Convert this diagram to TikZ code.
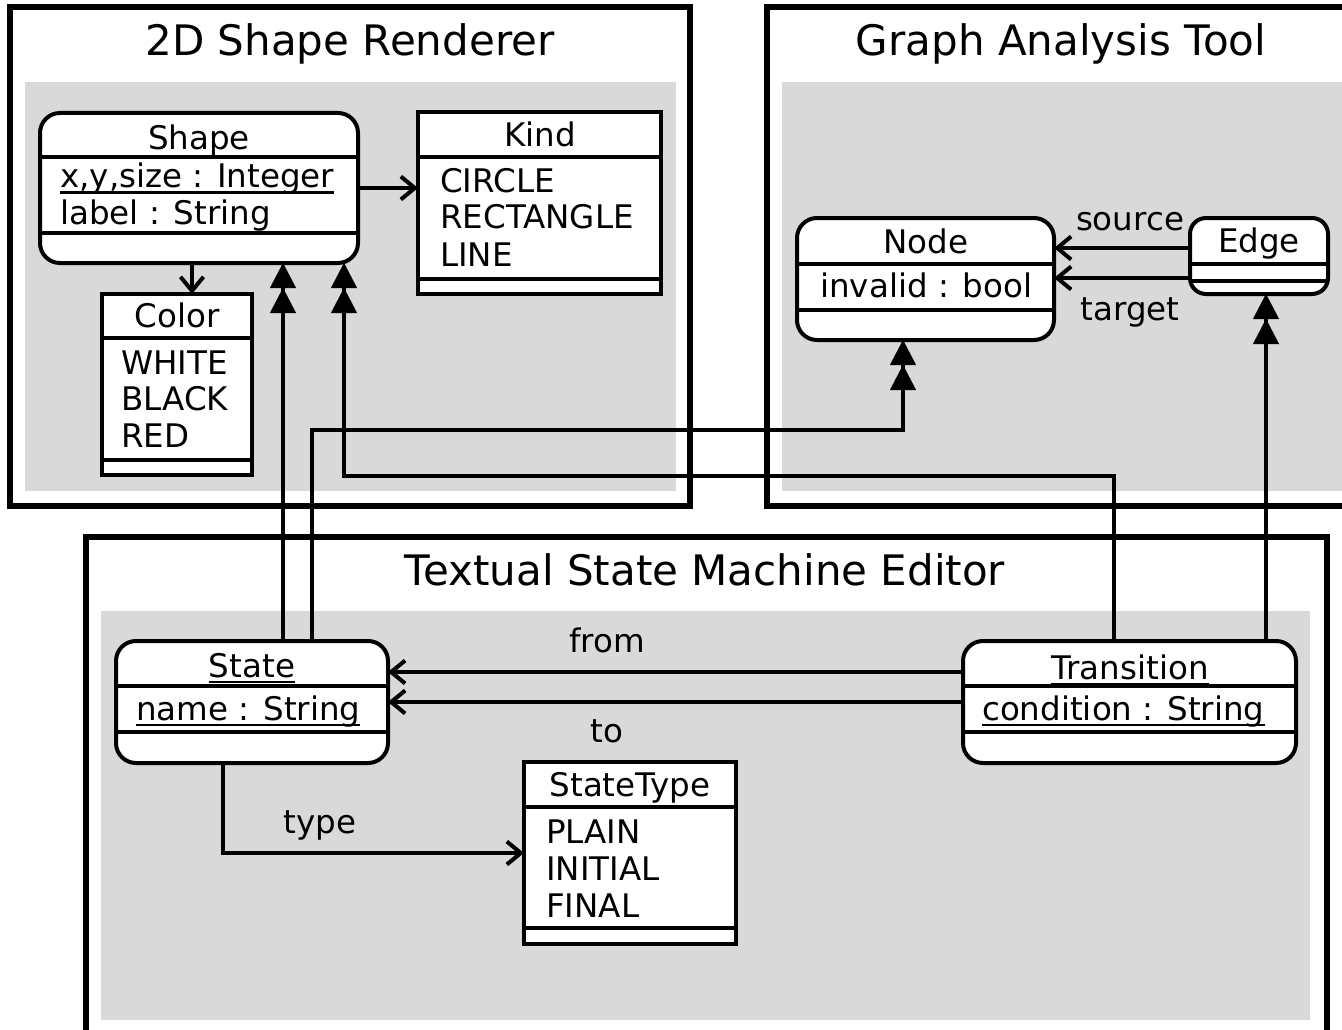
\documentclass[tikz,border=0pt]{standalone}
\usepackage{fontspec}
\setmainfont{DejaVu Sans}
\usetikzlibrary{arrows.meta}
\definecolor{pkgfill}{RGB}{217,217,217}
% underline with a fixed rule thickness
\newcommand\ulx[1]{\setbox0\hbox{#1}\rlap{\rule[-6pt]{\wd0}{2.5pt}}\box0}
\tikzset{
  frame/.style={draw, line width=5.5pt},
  pkgbg/.style={fill=pkgfill},
  cls/.style={draw, fill=white, line width=4pt, anchor=north west, inner sep=0pt, outer sep=0pt},
  rcls/.style={cls, rounded corners=20pt},
  divider/.style={line width=4pt},
  txt/.style={font=\fontsize{32.5}{38}\selectfont, inner sep=0pt, anchor=base},
  lft/.style={txt, anchor=base west},
  ttl/.style={font=\fontsize{42}{50}\selectfont, inner sep=0pt, anchor=base},
  conn/.style={line width=4pt},
  assoc/.style={conn, -{Straight Barb[length=14pt,width=23pt]}},
  inherit/.style={conn, -{Triangle[length=25pt,width=26pt,line width=0.01pt,sep=0pt]Triangle[length=25pt,width=26pt,line width=0.01pt,sep=0pt]}},
}
\begin{document}
\begin{tikzpicture}[x=1pt,y=-1pt]
\useasboundingbox (0,0) rectangle (1342,1030);
\clip (0,0) rectangle (1342,1030);

% packages
\fill[pkgbg] (25,82) rectangle (676,491);
\draw[frame] (10,7) rectangle (690,506);
\fill[pkgbg] (782,82) rectangle (1350,491);
\draw[frame] (767,7) rectangle (1360,506);
\fill[pkgbg] (101,611) rectangle (1310,1020);
\draw[frame] (86,537) rectangle (1327,1045);

\node[ttl] (t1) at (350,56) {2D Shape Renderer};
\node[ttl] (t2) at (1061,56) {Graph Analysis Tool};
\node[ttl] (t3) at (705,585) {Textual State Machine Editor};

% 2D Shape Renderer
\node[rcls, minimum width=318pt, minimum height=150pt] (shape) at (40,113) {};
\draw[divider] (shape.west |- 0,157) -- (shape.east |- 0,157);
\draw[divider] (shape.west |- 0,233) -- (shape.east |- 0,233);
\node[txt] (shape-n) at (199,150) {Shape};
\node[lft] (shape-a1) at (60,188) {\ulx{x,y,size : Integer}};
\node[lft] (shape-a2) at (60,225) {label : String};

\node[cls, minimum width=243pt, minimum height=182pt] (kind) at (418,112) {};
\draw[divider] (kind.west |- 0,157) -- (kind.east |- 0,157);
\draw[divider] (kind.west |- 0,279) -- (kind.east |- 0,279);
\node[txt] (kind-n) at (540,147) {Kind};
\node[lft] (kind-l1) at (440,193) {CIRCLE};
\node[lft] (kind-l2) at (440,229) {RECTANGLE};
\node[lft] (kind-l3) at (440,266) {LINE};

\node[cls, minimum width=150pt, minimum height=181pt] (color) at (102,294) {};
\draw[divider] (color.west |- 0,338) -- (color.east |- 0,338);
\draw[divider] (color.west |- 0,460) -- (color.east |- 0,460);
\node[txt] (color-n) at (177,327) {Color};
\node[lft] (color-l1) at (121,374) {WHITE};
\node[lft] (color-l2) at (121,410) {BLACK};
\node[lft] (color-l3) at (121,447) {RED};

% Graph Analysis Tool
\node[rcls, minimum width=257pt, minimum height=122pt] (node) at (797,218) {};
\draw[divider] (node.west |- 0,264) -- (node.east |- 0,264);
\draw[divider] (node.west |- 0,310) -- (node.east |- 0,310);
\node[txt] (node-n) at (926,253) {Node};
\node[lft] (node-a1) at (820,297) {invalid : bool};

\node[rcls, rounded corners=16pt, minimum width=138pt, minimum height=76pt] (edge) at (1190,218) {};
\draw[divider] (edge.west |- 0,264) -- (edge.east |- 0,264);
\draw[divider] (edge.west |- 0,281) -- (edge.east |- 0,281);
\node[txt] (edge-n) at (1259,252) {Edge};

% Textual State Machine Editor
\node[rcls, minimum width=272pt, minimum height=122pt] (state) at (116,641) {};
\draw[divider] (state.west |- 0,686) -- (state.east |- 0,686);
\draw[divider] (state.west |- 0,732) -- (state.east |- 0,732);
\node[txt] (state-n) at (252,677) {\ulx{State}};
\node[lft] (state-a1) at (136,720) {\ulx{name : String}};

\node[rcls, minimum width=333pt, minimum height=122pt] (trans) at (963,641) {};
\draw[divider] (trans.west |- 0,686) -- (trans.east |- 0,686);
\draw[divider] (trans.west |- 0,732) -- (trans.east |- 0,732);
\node[txt] (trans-n) at (1130,679) {\ulx{Transition}};
\node[lft] (trans-a1) at (982,720) {\ulx{condition : String}};

\node[cls, minimum width=212pt, minimum height=182pt] (stype) at (524,762) {};
\draw[divider] (stype.west |- 0,807) -- (stype.east |- 0,807);
\draw[divider] (stype.west |- 0,928) -- (stype.east |- 0,928);
\node[txt] (stype-n) at (630,796) {StateType};
\node[lft] (stype-l1) at (546,843) {PLAIN};
\node[lft] (stype-l2) at (546,880) {INITIAL};
\node[lft] (stype-l3) at (546,917) {FINAL};

% associations
\draw[assoc] (shape.east) -- (shape.east -| kind.west);
\draw[assoc] (shape.south -| 192,0) -- (color.north -| 192,0);
\draw[assoc] (edge.west |- 0,248) -- (node.east |- 0,248);
\draw[assoc] (edge.west |- 0,278) -- (node.east |- 0,278);
\draw[assoc] (trans.west |- 0,672) -- (state.east |- 0,672);
\draw[assoc] (trans.west |- 0,702) -- (state.east |- 0,702);
\draw[assoc] (state.south -| 223,0) |- (stype.west);

\node[txt] (lbl-source) at (1130,230) {source};
\node[txt] (lbl-target) at (1130,320) {target};
\node[txt] (lbl-from) at (607,652) {from};
\node[txt] (lbl-to) at (607,742) {to};
\node[txt] (lbl-type) at (320,833) {type};

% refinements across tools
\draw[inherit] (state.north -| 283,0) -- (shape.south -| 283,0);
\draw[inherit] (state.north -| 312,0) |- (903,430) -- (node.south -| 903,0);
\draw[inherit] (trans.north -| 1114,0) |- (344,476) -- (shape.south -| 344,0);
\draw[inherit] (trans.north -| 1266,0) -- (edge.south -| 1266,0);
\end{tikzpicture}
\end{document}
